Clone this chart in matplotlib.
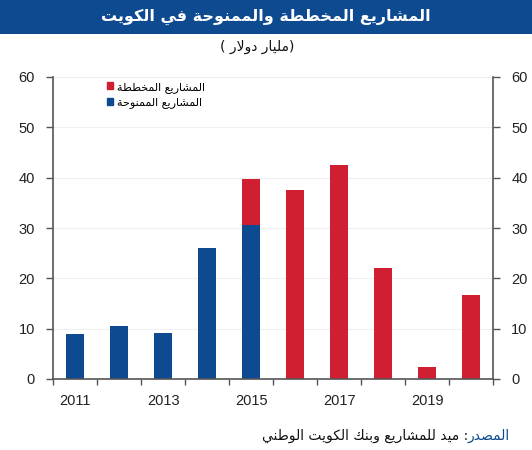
import matplotlib
matplotlib.use("Agg")
import matplotlib.pyplot as plt
import matplotlib.patches as mpatches
import numpy as np

# ── Data ─────────────────────────────────────────────────────────────────────
YEARS = [2011, 2012, 2013, 2014, 2015, 2016, 2017, 2018, 2019, 2020]
AWARDED = [9.0, 10.6, 9.1, 26.0, 30.5, 0, 0, 0, 0, 0]        # الممنوحة
PLANNED = [0, 0, 0, 0, 9.2, 37.5, 42.5, 22.0, 2.45, 16.7]    # المخططة (stacked)
YTICKS = [0, 10, 20, 30, 40, 50, 60]
XLABEL_YEARS = [2011, 2013, 2015, 2017, 2019]

TITLE = "المشاريع المخططة والممنوحة في الكويت"
UNIT = "مليار دولار"
LEG_PLANNED = "المشاريع المخططة"
LEG_AWARDED = "المشاريع الممنوحة"
SRC_HEAD = "المصدر"
SRC_BODY = ": ميد للمشاريع وبنك الكويت الوطني"

BLUE = "#0d4a8f"
RED = "#d01f32"
AXIS = "#555555"
NUM_FONT = "Liberation Sans"
AR_FONT = "DejaVu Sans"

# ── minimal Arabic shaping (matplotlib has no bidi / joining) ────────────────
FORMS = {  # isolated, final, initial, medial
    "ا": ("\uFE8D", "\uFE8E", None, None),
    "ب": ("\uFE8F", "\uFE90", "\uFE91", "\uFE92"),
    "ة": ("\uFE93", "\uFE94", None, None),
    "ت": ("\uFE95", "\uFE96", "\uFE97", "\uFE98"),
    "ح": ("\uFEA1", "\uFEA2", "\uFEA3", "\uFEA4"),
    "خ": ("\uFEA5", "\uFEA6", "\uFEA7", "\uFEA8"),
    "د": ("\uFEA9", "\uFEAA", None, None),
    "ر": ("\uFEAD", "\uFEAE", None, None),
    "ش": ("\uFEB5", "\uFEB6", "\uFEB7", "\uFEB8"),
    "ص": ("\uFEB9", "\uFEBA", "\uFEBB", "\uFEBC"),
    "ط": ("\uFEC1", "\uFEC2", "\uFEC3", "\uFEC4"),
    "ع": ("\uFEC9", "\uFECA", "\uFECB", "\uFECC"),
    "ف": ("\uFED1", "\uFED2", "\uFED3", "\uFED4"),
    "ك": ("\uFED9", "\uFEDA", "\uFEDB", "\uFEDC"),
    "ل": ("\uFEDD", "\uFEDE", "\uFEDF", "\uFEE0"),
    "م": ("\uFEE1", "\uFEE2", "\uFEE3", "\uFEE4"),
    "ن": ("\uFEE5", "\uFEE6", "\uFEE7", "\uFEE8"),
    "و": ("\uFEED", "\uFEEE", None, None),
    "ي": ("\uFEF1", "\uFEF2", "\uFEF3", "\uFEF4"),
    "\uFEFB": ("\uFEFB", "\uFEFC", None, None),  # lam-alef
}


def ar(text):
    s = text.replace("لا", "\uFEFB")
    out = []
    for i, c in enumerate(s):
        if c not in FORMS:
            out.append(c)
            continue
        f = FORMS[c]
        prev = s[i - 1] if i > 0 else ""
        nxt = s[i + 1] if i + 1 < len(s) else ""
        jp = prev in FORMS and FORMS[prev][2] is not None
        jn = f[2] is not None and nxt in FORMS
        out.append(f[3] if jp and jn else f[1] if jp else f[2] if jn else f[0])
    vis = "".join(reversed(out))
    return vis.translate(str.maketrans("()", ")("))


# ── Figure ───────────────────────────────────────────────────────────────────
fig = plt.figure(figsize=(5.32, 4.5), dpi=100)
W, H = 532, 450

# title bar
fig.patches.append(mpatches.Rectangle((0, 1 - 34 / H), 1, 34 / H, transform=fig.transFigure,
                                      facecolor=BLUE, edgecolor="none", zorder=0))
fig.text(0.5, 1 - 17 / H, ar(TITLE), ha="center", va="center", color="white",
         fontsize=11.5, fontweight="bold", family=AR_FONT)
fig.text(257 / W, 1 - 47 / H, "( " + ar(UNIT) + ")", ha="center", va="center",
         fontsize=10, family=AR_FONT, color="#111111")

ax = fig.add_axes([53 / W, 71 / H, 440.3 / W, 302 / H])
x = np.arange(len(YEARS))
ax.bar(x, AWARDED, width=0.41, color=BLUE, zorder=2)
ax.bar(x, PLANNED, width=0.41, bottom=AWARDED, color=RED, zorder=2)

ax.set_xlim(-0.5, len(YEARS) - 0.5)
ax.set_ylim(0, 60)
ax.set_yticks(YTICKS)
ax.grid(axis="y", color="#efefef", linewidth=0.8, zorder=0)

# category boundary ticks, year labels centred on bars
ax.set_xticks(np.arange(-0.5, len(YEARS)), labels=[""] * (len(YEARS) + 1))
ax.set_xticks([YEARS.index(y) for y in XLABEL_YEARS], labels=[str(y) for y in XLABEL_YEARS],
              minor=True)
ax.tick_params(axis="x", which="major", length=4, width=1, color=AXIS, direction="out")
ax.tick_params(axis="x", which="minor", length=0, pad=11, labelsize=10.5)
ax.tick_params(axis="y", length=5, width=1, color=AXIS, pad=8, labelsize=10.5,
               labelright=True, right=True)
for lab in ax.get_xticklabels(minor=True) + ax.get_yticklabels():
    lab.set_family(NUM_FONT)
    lab.set_color("#222222")
for lab in ax.yaxis.get_ticklabels(which="both"):
    lab.set_family(NUM_FONT)

for side in ["left", "right", "bottom"]:
    ax.spines[side].set_color(AXIS)
    ax.spines[side].set_linewidth(1.2)
ax.spines["top"].set_visible(False)

handles = [mpatches.Patch(color=RED, label=ar(LEG_PLANNED)),
           mpatches.Patch(color=BLUE, label=ar(LEG_AWARDED))]
leg = ax.legend(handles=handles, loc="upper left", bbox_to_anchor=(0.122, 0.985),
                frameon=False, borderpad=0, borderaxespad=0, handlelength=0.6,
                handleheight=0.6, handletextpad=0.3, labelspacing=0.4,
                prop={"family": AR_FONT, "size": 8})

# source line: blue heading + black body, right aligned
r = fig.canvas.get_renderer()
head = fig.text(510 / W, 1 - 436 / H, ar(SRC_HEAD), ha="right", va="center",
                fontsize=10, family=AR_FONT, color=BLUE)
bb = head.get_window_extent(renderer=r)
fig.text(bb.x0 / W, 1 - 436 / H, ar(SRC_BODY), ha="right", va="center",
         fontsize=10, family=AR_FONT, color="#111111")

fig.savefig("out.png", dpi=100)
